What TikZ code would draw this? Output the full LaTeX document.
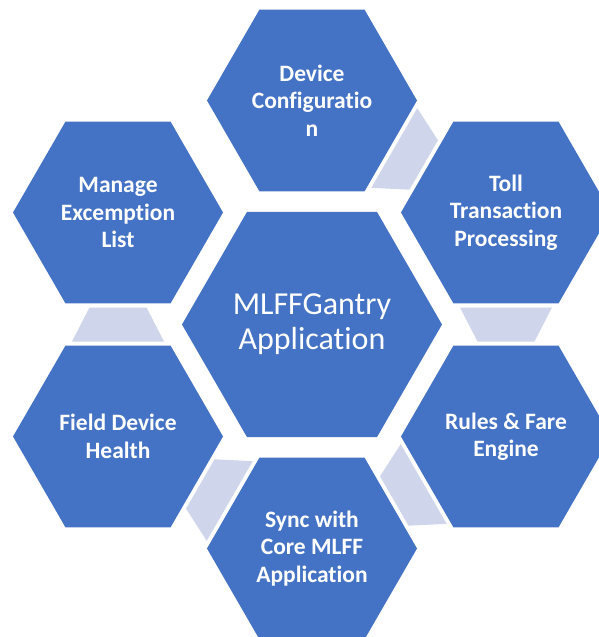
\documentclass[tikz,border=0pt]{standalone}
\usepackage{fontspec}
\setmainfont{Carlito}[Ligatures=NoCommon]
\usetikzlibrary{shapes.geometric,calc}

\definecolor{hexblue}{RGB}{68,114,196}
\definecolor{linkgray}{RGB}{207,213,234}

\begin{document}
\begin{tikzpicture}[x=1pt, y=1pt,
    cell/.style={regular polygon, regular polygon sides=6, minimum size=210pt, inner sep=0pt,
        fill=hexblue, text=white, align=center, font=\bfseries\fontsize{23.5}{27.5}\selectfont},
    hub/.style={cell, minimum size=260pt, font=\fontsize{32}{35}\selectfont},
    link/.style={fill=linkgray}] % Adjust sizes as needed
            % Page size of the reference
            \useasboundingbox (-312,324.5) rectangle (286,-312.5);
            % Hexagon in the middle
            \node[hub] (hub) at (0,0) {MLFFGantry\\Application};
            % Ring of hexagons around it
            \node[cell] (dev) at (90:224) {Device\\Configuratio\\n};
            \node[cell] (toll) at (30:224) {Toll\\Transaction\\Processing};
            \node[cell] (fare) at (-30:224) {Rules \& Fare\\Engine};
            \node[cell] (sync) at (-90:224) {Sync with\\Core MLFF\\Application};
            \node[cell] (health) at (210:224) {Field Device\\Health};
            \node[cell] (exempt) at (150:224) {Manage\\Excemption\\List};

            % Light links between neighbours on the ring
            \foreach \p/\q in {dev/toll, toll/fare, fare/sync, sync/health, health/exempt}
                \fill[link] ($(\p.center)!.5!(\q.center)!17pt!(\p.center)!46pt!90:(\p.center)$)
                    -- ($(\p.center)!.5!(\q.center)!17pt!(\p.center)!46pt!-90:(\p.center)$)
                    -- ($(\p.center)!.5!(\q.center)!17pt!(\q.center)!28.5pt!90:(\q.center)$)
                    -- ($(\p.center)!.5!(\q.center)!17pt!(\q.center)!28.5pt!-90:(\q.center)$)
                    -- cycle;
        \end{tikzpicture}
\end{document}
